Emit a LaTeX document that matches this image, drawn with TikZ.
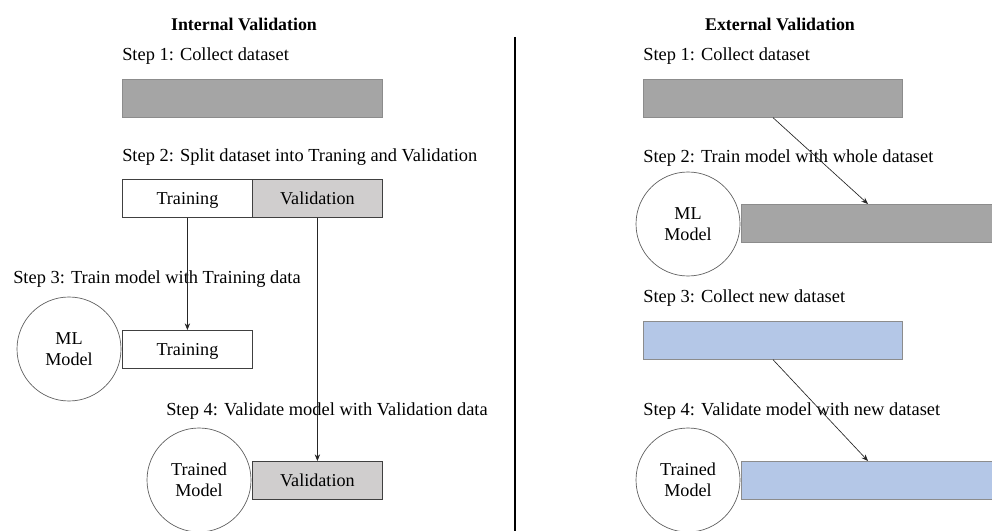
\documentclass[tikz,border=0pt]{standalone}
\usepackage{fontspec}
\setmainfont{Liberation Serif}
\usetikzlibrary{arrows.meta}
\definecolor{bargray}{HTML}{A5A5A5}
\definecolor{lightgray}{HTML}{D0CECE}
\definecolor{barblue}{HTML}{B4C7E7}
\definecolor{edgegray}{HTML}{8C8C8C}
\begin{document}
\begin{tikzpicture}[x=0.75pt,y=-0.75pt,
  txt/.style={font=\fontsize{13.8}{15}\selectfont, inner sep=0pt, anchor=base west},
  ttl/.style={font=\bfseries\fontsize{13.4}{15}\selectfont, inner sep=0pt, anchor=base},
  databar/.style={draw=edgegray, line width=0.5pt, minimum height=28.5pt, inner sep=0pt, anchor=north west},
  cellbox/.style={draw=black!75, line width=0.6pt, minimum height=28.5pt, minimum width=97.5pt, inner sep=0pt, anchor=north west, text height=10.5pt, text depth=1.5pt, font=\fontsize{13.6}{15}\selectfont},
  modelc/.style={circle, draw=black!65, line width=0.5pt, minimum size=78pt, inner sep=0pt, align=center, font=\fontsize{13.6}{15.5}\selectfont},
  flow/.style={-{Stealth[length=5pt,width=4pt]}, line width=0.5pt, draw=black!85}
]
\useasboundingbox (0,0) rectangle (992,531);

% ---------- Internal ----------
\node[ttl] (tint) at (244,31) {Internal Validation};
\node[txt] (is1) at (122,61) {Step 1: Collect dataset};
\node[databar, fill=bargray, minimum width=195pt] (ibar) at (122,79) {};
\node[txt] (is2) at (122,162) {Step 2: Split dataset into Traning and Validation};
\node[cellbox, fill=white] (itr) at (122,179) {Training};
\node[cellbox, fill=lightgray] (iva) at (252,179) {Validation};
\node[txt] (is3) at (13,283) {Step 3: Train model with Training data};
\node[modelc] (iml) at (69,349) {ML\\Model};
\node[cellbox, fill=white] (itr2) at (122,330) {Training};
\node[txt] (is4) at (166,415) {Step 4: Validate model with Validation data};
\node[modelc] (itm) at (199,480) {Trained\\Model};
\node[cellbox, fill=lightgray] (iva2) at (252,461) {Validation};
\draw[flow] (itr.south) -- (itr2.north);
\draw[flow] (iva.south) -- (iva2.north);

% ---------- Divider ----------
\coordinate (dtop) at (515,37);
\coordinate (dbot) at (515,531);
\draw[line width=1.6pt] (dtop) -- (dbot);

% ---------- External ----------
\node[ttl] (text) at (780,31) {External Validation};
\node[txt] (es1) at (643,61) {Step 1: Collect dataset};
\node[databar, fill=bargray, minimum width=194.5pt] (ebar) at (643,79) {};
\node[txt] (es2) at (643,163) {Step 2: Train model with whole dataset};
\node[modelc] (eml) at (688,224) {ML\\Model};
\node[databar, fill=bargray, minimum width=190pt] (ebar2) at (741,204) {};
\node[txt] (es3) at (643,302) {Step 3: Collect new dataset};
\node[databar, fill=barblue, minimum width=194.5pt] (enew) at (643,321) {};
\node[txt] (es4) at (643,415) {Step 4: Validate model with new dataset};
\node[modelc] (etm) at (688,480) {Trained\\Model};
\node[databar, fill=barblue, minimum width=190pt] (enew2) at (741,461) {};
\draw[flow] (ebar.south) -- (ebar2.north);
\draw[flow] (enew.south) -- (enew2.north);
\end{tikzpicture}
\end{document}
